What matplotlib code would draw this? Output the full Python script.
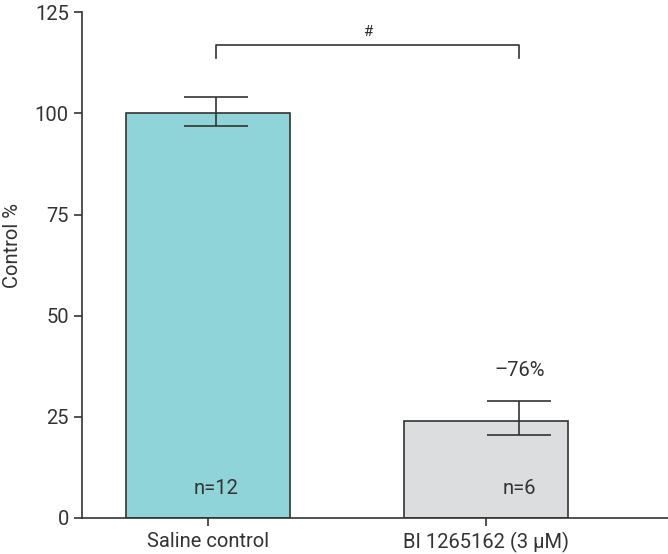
import matplotlib
matplotlib.use("Agg")
import matplotlib.pyplot as plt

categories = ["Saline control", "BI 1265162 (3 μM)"]
values = [100, 24]
err_low = [3.2, 3.5]
err_high = [4.0, 5.0]
n_labels = ["n=12", "n=6"]
change_label = "–76%"
sig_label = "#"
colors = ["#8fd4d8", "#dcdddf"]

plt.rcParams['font.family'] = ['Roboto', 'DejaVu Sans']
fig = plt.figure(figsize=(6.68, 5.54), dpi=100)
ax = fig.add_axes([0.1228, 0.065, 0.877, 0.913])

x = [0, 1]
ax.bar(x, values, width=0.59, color=colors, edgecolor="#333333", linewidth=1.2, zorder=2)
ex = [0.03, 1.12]
ax.errorbar(ex, values, yerr=[err_low, err_high], fmt="none", ecolor="#333333",
            elinewidth=1.2, capsize=23, capthick=1.2, zorder=3)

for xi, lab in zip(ex, n_labels):
    ax.text(xi, 7.4, lab, ha="center", va="center", fontsize=14.5, color="#333333")
ax.text(ex[1], 36.5, change_label, ha="center", va="center", fontsize=14.5, color="#333333")

# significance bracket
by = 117
ax.plot([ex[0], ex[0], ex[1], ex[1]], [by - 3.2, by, by, by - 3.2], color="#333333", lw=1.2)
ax.text((ex[0] + ex[1]) / 2, by + 1.3, sig_label, ha="center", va="bottom", fontsize=11, color="#333333")

ax.set_xlim(-0.453, 1.655)
ax.set_ylim(0, 125)
ax.set_yticks([0, 25, 50, 75, 100, 125])
ax.set_xticks(x)
ax.set_xticklabels(categories)
fig.text(12 / 668, 1 - 245 / 554, "Control %", rotation=90, ha="center", va="center",
         fontsize=14.5, color="#333333")
ax.tick_params(labelsize=14.5, colors="#333333", length=6, width=1.2)
ax.tick_params(axis="x", pad=4)
for s in ["top", "right"]:
    ax.spines[s].set_visible(False)
for s in ["left", "bottom"]:
    ax.spines[s].set_color("#333333")
    ax.spines[s].set_linewidth(1.2)

fig.savefig("out.png", dpi=100)
